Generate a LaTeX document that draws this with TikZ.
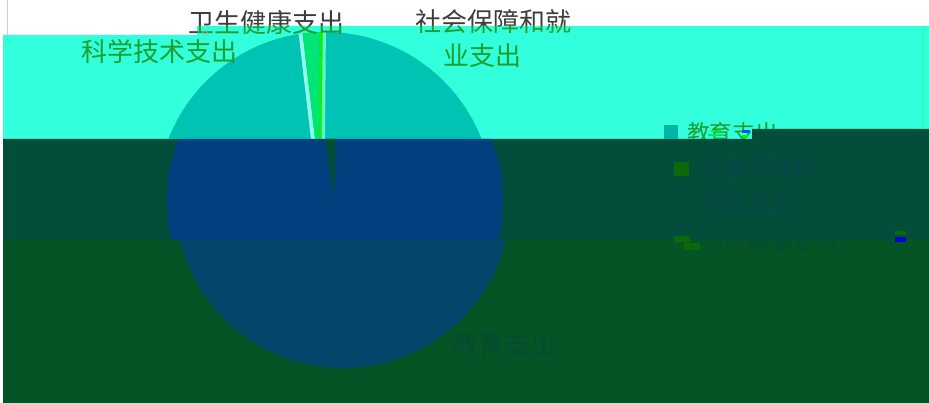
\documentclass[tikz,border=0pt]{standalone}
\usepackage{fontspec}
\newfontfamily\cjk{Noto Sans CJK SC}
\definecolor{cyanbg}{HTML}{32FFDC}
\definecolor{pietop}{HTML}{00C3B3}
\definecolor{tealbg}{HTML}{034E3B}
\definecolor{pieblue}{HTML}{023F7F}
\definecolor{greenbg}{HTML}{045426}
\definecolor{piegreen}{HTML}{03486A}
\definecolor{txtgray}{HTML}{3C3C3C}
\definecolor{txtgreen}{HTML}{1E9E2E}
\definecolor{lgreen}{HTML}{00E676}
\definecolor{bgreen}{HTML}{10F010}
\definecolor{lcyan}{HTML}{8FFFEA}
\definecolor{darktxt}{HTML}{08444A}
\definecolor{darktxtg}{HTML}{074B32}
\definecolor{sqteal}{HTML}{00B5A8}
\definecolor{sqgreen}{HTML}{0A6A0A}
\begin{document}
\begin{tikzpicture}[x=0.75pt,y=-0.75pt,
  lbl/.style={font=\cjk\fontsize{19.5}{23}\selectfont, inner sep=0pt, anchor=center},
  lgd/.style={font=\cjk\fontsize{17}{20}\selectfont, inner sep=0pt, anchor=west},
]
\useasboundingbox (0,0) rectangle (929,403);
\fill[white] (0,0) rectangle (929,403);
\draw[gray!35, line width=0.75pt] (7.5,0) -- (7.5,35);
% gray label text (upper parts, above cyan band)
\node[lbl, text=txtgray] (wsg) at (266,22) {卫生健康支出};
\node[lbl, text=txtgray] (shg) at (493,22) {社会保障和就};
% bands
\fill[cyanbg] (3,35) -- (197,35) -- (197,26) -- (929,26) -- (929,129) -- (752,129) -- (752,139) -- (3,139) -- cycle;
\fill[tealbg] (3,139) -- (752,139) -- (752,129) -- (929,129) -- (929,240) -- (3,240) -- cycle;
\fill[greenbg] (3,240) rectangle (929,403);
\draw[cyanbg!85!green, line width=0.9pt] (923,26) -- (923,129);
% pie, cyan band part
\begin{scope}
  \clip (3,35) -- (197,35) -- (197,26) -- (929,26) -- (929,129) -- (752,129) -- (752,139) -- (3,139) -- cycle;
  \fill[pietop] (325,200) circle [radius=126pt];
  \begin{scope}
    \clip (325,200) circle [radius=126pt];
    \fill[lcyan] (297,20) -- (301,20) -- (315,139) -- (311,139) -- cycle;
    \fill[lgreen] (301,20) -- (320,20) -- (318.5,139) -- (315,139) -- cycle;
    \fill[bgreen] (320,20) -- (323,20) -- (321.5,139) -- (318.5,139) -- cycle;
    \fill[lcyan!70!lgreen] (323,20) -- (326,20) -- (325,139) -- (321.5,139) -- cycle;
  \end{scope}
  % green label text in cyan band
  \node[lbl, text=txtgreen] (wsc) at (266,22) {卫生健康支出};
  \node[lbl, text=txtgreen] (shc) at (493,22) {社会保障和就};
\end{scope}
\node[lbl, text=txtgreen] (kx) at (159,52) {科学技术支出};
\node[lbl, text=txtgreen] (yz) at (482,56) {业支出};
\draw[gray!60, line width=0.5pt] (205,33) circle [radius=1.8pt];
% pie, teal band part
\begin{scope}
  \clip (3,139) -- (752,139) -- (752,129) -- (929,129) -- (929,240) -- (3,240) -- cycle;
  \fill[pieblue] (335,200) circle [radius=126pt];
  \fill[tealbg] (325,139) -- (336,139) -- (334,200) -- cycle;
\end{scope}
% pie, green band part
\begin{scope}
  \clip (3,240) rectangle (929,403);
  \fill[piegreen] (343,200) circle [radius=126pt];
\end{scope}
% legend, first item (cyan band)
\begin{scope}
  \clip (3,35) -- (197,35) -- (197,26) -- (929,26) -- (929,129) -- (752,129) -- (752,139) -- (3,139) -- cycle;
  \fill[sqteal] (664,125) rectangle (678,142);
  \node[lgd, text=txtgreen] (lg1) at (687,133) {教育支出};
\end{scope}
\fill[bgreen] (711,130) rectangle (722,132);
\fill[lgreen] (708,134) rectangle (724,136);
\fill[blue!70!cyan] (742,130) rectangle (750,133);
\fill[bgreen] (742,135) rectangle (748,138);
% legend, dark items (teal band)
\fill[sqgreen] (674,162) rectangle (689,176);
\node[lgd, text=darktxt] (lg2a) at (702,168) {社会保障和};
\node[lgd, text=darktxt] (lg2b) at (702,202) {就业支出};
\begin{scope}
  \clip (3,230) rectangle (929,250);
  \node[lgd, text=darktxtg] (lg3) at (702,244) {卫生健康支出};
\end{scope}
\fill[sqgreen] (674,236) rectangle (690,242);
\fill[sqgreen] (684,243) rectangle (700,250);
\fill[sqgreen] (895,231) rectangle (906,235);
\fill[blue!80!black] (895,237) rectangle (906,242);
% label in green band
\node[lbl, text=darktxtg] (jy) at (504,345) {教育支出};
\end{tikzpicture}
\end{document}
